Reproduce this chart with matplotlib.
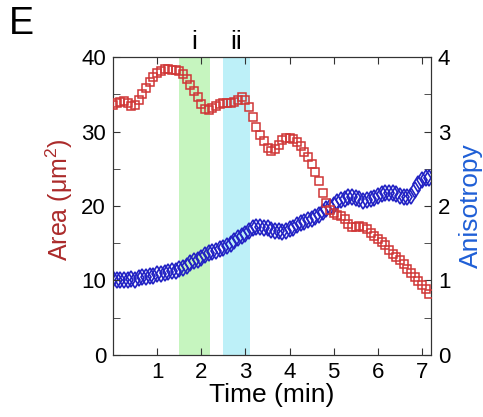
import matplotlib
matplotlib.use("Agg")
import matplotlib.pyplot as plt
import numpy as np
from matplotlib.ticker import MultipleLocator

plt.rcParams["font.family"] = ["Liberation Sans", "DejaVu Sans"]

# time points, 5 s apart (min)
time_min = np.arange(87) / 12.0

# cell area (um^2)
area = [33.6, 33.8, 34.0, 34.1, 33.9, 33.4, 33.6, 34.3, 35.0, 35.8,
        36.6, 37.3, 37.9, 38.2, 38.4, 38.4, 38.3, 38.3, 38.1, 37.8,
        37.1, 36.3, 35.4, 34.6, 33.7, 33.0, 32.9, 33.2, 33.4, 33.7,
        33.8, 33.9, 33.8, 34.0, 34.3, 34.6, 34.2, 33.3, 31.9, 30.6,
        29.6, 28.7, 27.8, 27.4, 27.6, 28.2, 28.8, 29.2, 29.2, 29.0,
        28.6, 28.1, 27.3, 26.6, 25.7, 24.6, 23.4, 21.8, 20.4, 19.4,
        19.0, 18.8, 18.7, 18.2, 17.6, 17.2, 17.2, 17.3, 17.2, 16.9,
        16.4, 16.0, 15.6, 15.1, 14.7, 14.1, 13.5, 13.1, 12.8, 12.2,
        11.6, 11.0, 10.4, 9.9, 9.4, 8.9, 8.2]

# anisotropy
aniso = [1.02, 1.01, 1.00, 1.01, 1.00, 1.02, 1.01, 1.03, 1.04, 1.05,
         1.06, 1.06, 1.08, 1.09, 1.10, 1.12, 1.13, 1.13, 1.15, 1.17,
         1.20, 1.23, 1.26, 1.28, 1.30, 1.34, 1.37, 1.38, 1.39, 1.42,
         1.44, 1.46, 1.49, 1.53, 1.57, 1.60, 1.63, 1.66, 1.70, 1.72,
         1.72, 1.71, 1.70, 1.68, 1.67, 1.66, 1.65, 1.66, 1.69, 1.71,
         1.74, 1.77, 1.79, 1.81, 1.83, 1.85, 1.88, 1.92, 1.96, 1.99,
         2.02, 2.05, 2.08, 2.10, 2.12, 2.12, 2.11, 2.09, 2.07, 2.08,
         2.10, 2.11, 2.14, 2.16, 2.17, 2.17, 2.17, 2.16, 2.14, 2.12,
         2.12, 2.13, 2.22, 2.30, 2.35, 2.37, 2.37]

# highlighted intervals (min)
span_i = (1.5, 2.2)
span_ii = (2.5, 3.1)

fig = plt.figure(figsize=(4.83, 4.17), dpi=100)
ax = fig.add_axes([0.234, 0.149, 0.658, 0.714])
ax2 = ax.twinx()

# spans + anisotropy live on the lower (twin) axes, area on top
ax2.axvspan(*span_i, color="#c6f5bf", lw=0, zorder=0)
ax2.axvspan(*span_ii, color="#bdf0f8", lw=0, zorder=0)
ax2.plot(time_min, aniso, "d", ms=8, mfc="none", mec="#2222c4", mew=1.2,
         zorder=3)
ax.plot(time_min, area, "s", ms=6, mfc="none", mec="#d03636", mew=1.1,
        zorder=3)
ax.set_zorder(ax2.get_zorder() + 1)
ax.patch.set_visible(False)

ax.set_xlim(0, 7.2)
ax.set_ylim(0, 40)
ax2.set_ylim(0, 4)
ax.set_xticks(range(1, 8))
ax.yaxis.set_major_locator(MultipleLocator(10))
ax.yaxis.set_minor_locator(MultipleLocator(5))
ax2.yaxis.set_major_locator(MultipleLocator(1))
ax2.yaxis.set_minor_locator(MultipleLocator(0.5))

for a in (ax, ax2):
    a.tick_params(which="both", direction="in", labelsize=16, top=True,
                  color="#333333")
    a.tick_params(which="major", length=5, pad=5)
    a.tick_params(which="minor", length=5)
    for s in a.spines.values():
        s.set_color("#333333")

ax.set_xlabel("Time (min)", fontsize=19, labelpad=0)
ax.set_ylabel(r"Area ($\mathregular{\mu m^2}$)", fontsize=18, color="#ab2a2a")
ax.yaxis.set_label_coords(-0.12, 0.52)
ax2.set_ylabel("Anisotropy", fontsize=19, color="#1f5fd6", labelpad=6)

ax.text(1.85, 40.4, "i", fontsize=19, ha="center", va="bottom")
ax.text(2.8, 40.4, "ii", fontsize=19, ha="center", va="bottom")
fig.text(0.018, 0.985, "E", fontsize=27, ha="left", va="top")

fig.savefig("out.png", dpi=100)
